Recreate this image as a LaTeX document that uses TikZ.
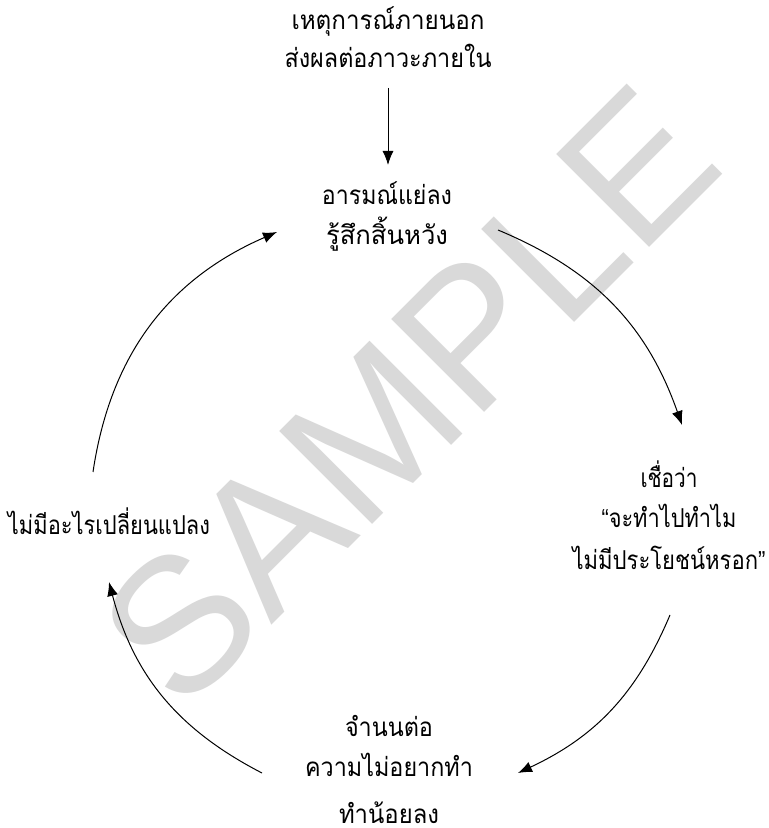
\documentclass[tikz,border=0pt]{standalone}
\usepackage{fontspec}
\usepackage{graphicx}
\newfontfamily\thaifont[Script=Thai]{Loma}
\newfontfamily\qfont{Liberation Sans}
\setsansfont{Liberation Sans}
\usetikzlibrary{arrows.meta}
\definecolor{wm}{RGB}{217,217,217}
\newcommand\fitto[2]{\resizebox{#1}{\height}{#2}}
\begin{document}
\begin{tikzpicture}[x=1pt,y=1pt,
  txt/.style={font=\thaifont\fontsize{26}{40}\selectfont, anchor=base, inner sep=0pt},
  arr/.style={-{Latex[length=14pt,width=11pt]}, line width=1pt}]
\useasboundingbox (0,0) rectangle (769,828);
\fill[white] (0,0) rectangle (769,828);
% watermark
\node[rotate=45, anchor=base, inner sep=0pt, text=wm,
      font=\sffamily\fontsize{191}{191}\selectfont] (wmark) at (455,386) {SAMPLE};
% texts
\node[txt] (t1) at (388,798) {\fitto{193pt}{เหตุการณ์ภายนอก}};
\node[txt] (t2) at (388,760) {\fitto{207pt}{ส่งผลต่อภาวะภายใน}};
\node[txt] (m1) at (387,623) {\fitto{130pt}{อารมณ์แย่ลง}};
\node[txt] (m2) at (387,583) {\fitto{122pt}{รู้สึกสิ้นหวัง}};
\node[txt] (r1) at (669,340) {\fitto{57pt}{เชื่อว่า}};
\node[txt] (r2) at (669,300) {\fitto{135pt}{{\qfont “}จะทำไปทำไม}};
\node[txt] (r3) at (669,258) {\fitto{193pt}{ไม่มีประโยชน์หรอก{\qfont ”}}};
\node[txt] (l1) at (109,293) {\fitto{202pt}{ไม่มีอะไรเปลี่ยนแปลง}};
\node[txt] (b1) at (389,91) {\fitto{88pt}{จำนนต่อ}};
\node[txt] (b2) at (389,51) {\fitto{168pt}{ความไม่อยากทำ}};
\node[txt] (b3) at (389,5) {\fitto{100pt}{ทำน้อยลง}};
% connector ends
\coordinate (v0) at (388,740);
\coordinate (v1) at (388,663);
\coordinate (a1s) at (498,598);
\coordinate (a1e) at (682,403);
\coordinate (a2s) at (670,213);
\coordinate (a2e) at (518,55);
\coordinate (a3s) at (262,55);
\coordinate (a3e) at (109,246);
\coordinate (a4s) at (93,356);
\coordinate (a4e) at (277,596);
% connectors
\draw[arr] (v0) -- (v1);
\draw[arr] (a1s) to[bend left=24] (a1e);
\draw[arr] (a2s) to[bend left=21] (a2e);
\draw[arr] (a3s) to[bend left=24] (a3e);
\draw[arr] (a4s) to[bend left=29] (a4e);
\end{tikzpicture}
\end{document}
